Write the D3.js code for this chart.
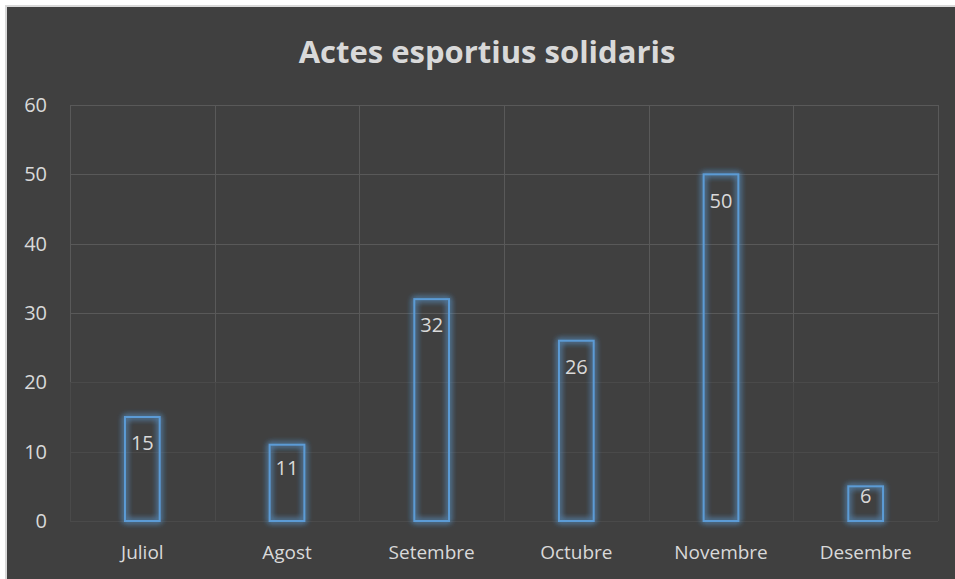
<!DOCTYPE html>
<html>
<head>
<meta charset="utf-8">
<script src="https://cdn.jsdelivr.net/npm/d3@7"></script>
<style>
    body { margin: 0; background: #ffffff; }
    svg { display: block; }
</style>
</head>
<body>
<div id="chart"></div>
<script>
// chart data
let months = ["Juliol", "Agost", "Setembre", "Octubre", "Novembre", "Desembre"];
let values = [15, 11, 32, 26, 50, 5];
let labels = ["15", "11", "32", "26", "50", "6"];
let yTicks = [0, 10, 20, 30, 40, 50, 60];

let width = 955, height = 579;
let margin = {top: 105, right: 17, bottom: 58, left: 70};

let svg = d3.select("#chart").append("svg")
    .attr("width", width)
    .attr("height", height);

// glow filter for the bar outlines
let defs = svg.append("defs");
let glow = defs.append("filter")
    .attr("id", "glow")
    .attr("x", "-50%").attr("y", "-50%")
    .attr("width", "200%").attr("height", "200%");
glow.append("feGaussianBlur")
    .attr("in", "SourceGraphic")
    .attr("stdDeviation", 3)
    .attr("result", "blur");
let merge = glow.append("feMerge");
merge.append("feMergeNode").attr("in", "blur");
merge.append("feMergeNode").attr("in", "blur");
merge.append("feMergeNode").attr("in", "SourceGraphic");

// background + left/top border
svg.append("rect")
    .attr("x", 5).attr("y", 5)
    .attr("width", width - 5).attr("height", height - 5)
    .attr("fill", "#d9d9d9");
svg.append("rect")
    .attr("x", 7).attr("y", 7)
    .attr("width", width - 7).attr("height", height - 7)
    .attr("fill", "#404040");

let x = d3.scaleBand()
    .domain(months)
    .range([margin.left, width - margin.right]);

let y = d3.scaleLinear()
    .domain([0, 60])
    .range([height - margin.bottom, margin.top]);

// horizontal grid
svg.append("g")
    .selectAll("line")
    .data(yTicks)
    .enter()
    .append("line")
    .attr("x1", margin.left)
    .attr("x2", width - margin.right)
    .attr("y1", d => Math.round(y(d)) + 0.5)
    .attr("y2", d => Math.round(y(d)) + 0.5)
    .attr("stroke", d => d <= 20 ? "#4a4a4a" : "#595959")
    .attr("stroke-width", 1);

// vertical grid between categories
let edges = months.map(m => x(m)).concat([width - margin.right]);
svg.append("g")
    .selectAll("line")
    .data(edges)
    .enter()
    .append("line")
    .attr("x1", d => Math.round(d) + 0.5)
    .attr("x2", d => Math.round(d) + 0.5)
    .attr("y1", margin.top)
    .attr("y2", y(20))
    .attr("stroke", "#595959");
svg.append("g")
    .selectAll("line")
    .data(edges)
    .enter()
    .append("line")
    .attr("x1", d => Math.round(d) + 0.5)
    .attr("x2", d => Math.round(d) + 0.5)
    .attr("y1", y(20))
    .attr("y2", y(0))
    .attr("stroke", "#4a4a4a");

// y axis labels
let yAxis = d3.axisLeft(y)
    .tickValues(yTicks)
    .tickSize(0)
    .tickPadding(23);
let yg = svg.append("g")
    .attr("transform", `translate(${margin.left}, 0)`)
    .call(yAxis);
yg.select(".domain").remove();
yg.selectAll("text")
    .attr("fill", "#d9d9d9")
    .style("font-family", "'Open Sans', sans-serif")
    .style("font-size", "20px");

// x axis labels
let xAxis = d3.axisBottom(x)
    .tickSize(0)
    .tickPadding(25);
let xg = svg.append("g")
    .attr("transform", `translate(0, ${y(0)})`)
    .call(xAxis);
xg.select(".domain").remove();
xg.selectAll("text")
    .attr("fill", "#d9d9d9")
    .style("font-family", "'Open Sans', sans-serif")
    .style("font-size", "19px");

// bars (outline only, with glow)
let barW = x.bandwidth() * 0.24;
svg.append("g")
    .selectAll("rect")
    .data(values)
    .enter()
    .append("rect")
    .attr("x", (d, i) => x(months[i]) + (x.bandwidth() - barW) / 2)
    .attr("y", d => y(d))
    .attr("width", barW)
    .attr("height", d => y(0) - y(d))
    .attr("fill", "none")
    .attr("stroke", "#5b9bd5")
    .attr("stroke-width", 2)
    .attr("filter", "url(#glow)");

// value labels, inside the top of each bar
svg.append("g")
    .selectAll("text")
    .data(values)
    .enter()
    .append("text")
    .attr("x", (d, i) => x(months[i]) + x.bandwidth() / 2)
    .attr("y", d => y(d) + Math.min(28, (y(0) - y(d)) / 3))
    .attr("text-anchor", "middle")
    .attr("dominant-baseline", "middle")
    .attr("fill", "#d9d9d9")
    .style("font-family", "'Open Sans', sans-serif")
    .style("font-size", "20px")
    .text((d, i) => labels[i]);

// title
svg.append("text")
    .attr("x", 487)
    .attr("y", 63)
    .attr("text-anchor", "middle")
    .attr("fill", "#d9d9d9")
    .style("font-family", "'Open Sans', sans-serif")
    .style("font-weight", "bold")
    .style("font-size", "31px")
    .text("Actes esportius solidaris");
</script>
</body>
</html>
